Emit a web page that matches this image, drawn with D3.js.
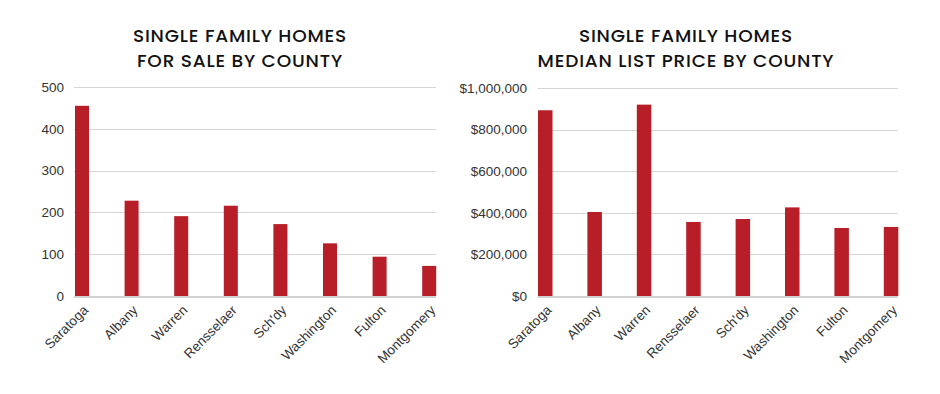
<!DOCTYPE html>
<html><head><meta charset="utf-8">
<script src="https://cdn.jsdelivr.net/npm/d3@7"></script>
<style>
body{margin:0;background:#fff;}
svg{display:block;}
</style></head>
<body>
<svg id="c" width="940" height="394"></svg>
<script>
const categories = ["Saratoga","Albany","Warren","Rensselaer","Sch'dy","Washington","Fulton","Montgomery"];
const homesForSale = [455, 228, 191, 216, 172, 126, 94, 72];
const medianPrice = [893000, 404000, 920000, 356000, 370000, 426000, 327000, 332000];
const leftTicks = [0, 100, 200, 300, 400, 500];
const rightTicks = [0, 200000, 400000, 600000, 800000, 1000000];
const leftTitle = ["SINGLE FAMILY HOMES", "FOR SALE BY COUNTY"];
const rightTitle = ["SINGLE FAMILY HOMES", "MEDIAN LIST PRICE BY COUNTY"];

const svg = d3.select("#c");
const barColor = "#b71e27";

function panel(opts){
  const g = svg.append("g");
  const y = d3.scaleLinear().domain([0, opts.max]).range([opts.y0, opts.y1]);
  const x = d3.scaleBand().domain(categories).range([opts.x0, opts.x0 + opts.step*8]).paddingInner(0).paddingOuter(0);
  // gridlines
  g.selectAll("line.grid").data(opts.ticks).enter().append("line")
    .attr("x1", opts.gx0).attr("x2", opts.gx1)
    .attr("y1", d => d === 0 ? y(d) + 1 : Math.round(y(d)) + 0.5)
    .attr("y2", d => d === 0 ? y(d) + 1 : Math.round(y(d)) + 0.5)
    .attr("stroke", d => d === 0 ? "#d2d2d2" : "#d6d6d6").attr("stroke-width", d => d === 0 ? 2 : 1.2);
  // y axis labels
  const ax = d3.axisLeft(y).tickValues(opts.ticks).tickFormat(opts.fmt).tickSize(0).tickPadding(0);
  const ag = g.append("g").attr("transform", `translate(${opts.labelX},0)`).call(ax);
  ag.select(".domain").remove();
  ag.selectAll("text").attr("font-family","'Liberation Sans', Arial, sans-serif").attr("font-size", 13.5).attr("fill","#333");
  // bars
  g.selectAll("rect.bar").data(opts.values).enter().append("rect")
    .attr("x", (d,i) => x(categories[i]))
    .attr("width", opts.barW)
    .attr("y", d => y(d))
    .attr("height", d => y(0) - y(d))
    .attr("fill", barColor);
  // x labels
  g.selectAll("text.xl").data(categories).enter().append("text")
    .attr("transform", d => `translate(${x(d) + opts.barW/2 + 7},${opts.y0 + 15}) rotate(-45)`)
    .attr("text-anchor","end")
    .attr("font-family","'Liberation Sans', Arial, sans-serif").attr("font-size", 13.5).attr("fill","#333")
    .text(d => d);
  // title
  g.selectAll("text.title").data(opts.title).enter().append("text")
    .attr("x", opts.titleX).attr("y", (d,i) => 42 + i*24.5)
    .attr("text-anchor","middle")
    .attr("font-family","Poppins, 'Open Sans', sans-serif").attr("font-weight", 500)
    .attr("font-size", 18.5).attr("letter-spacing", "0.8px").attr("fill","#111")
    .text(d => d);
}

panel({values: homesForSale, max: 500, ticks: leftTicks, fmt: d3.format("d"),
  y0: 296, y1: 87, x0: 75, step: 49.6, barW: 14, gx0: 74, gx1: 436, labelX: 64,
  title: leftTitle, titleX: 240});
panel({values: medianPrice, max: 1000000, ticks: rightTicks, fmt: d => "$" + d3.format(",")(d),
  y0: 296, y1: 88, x0: 538, step: 49.4, barW: 14.5, gx0: 537.5, gx1: 898, labelX: 527,
  title: rightTitle, titleX: 686});
</script>
</body></html>
